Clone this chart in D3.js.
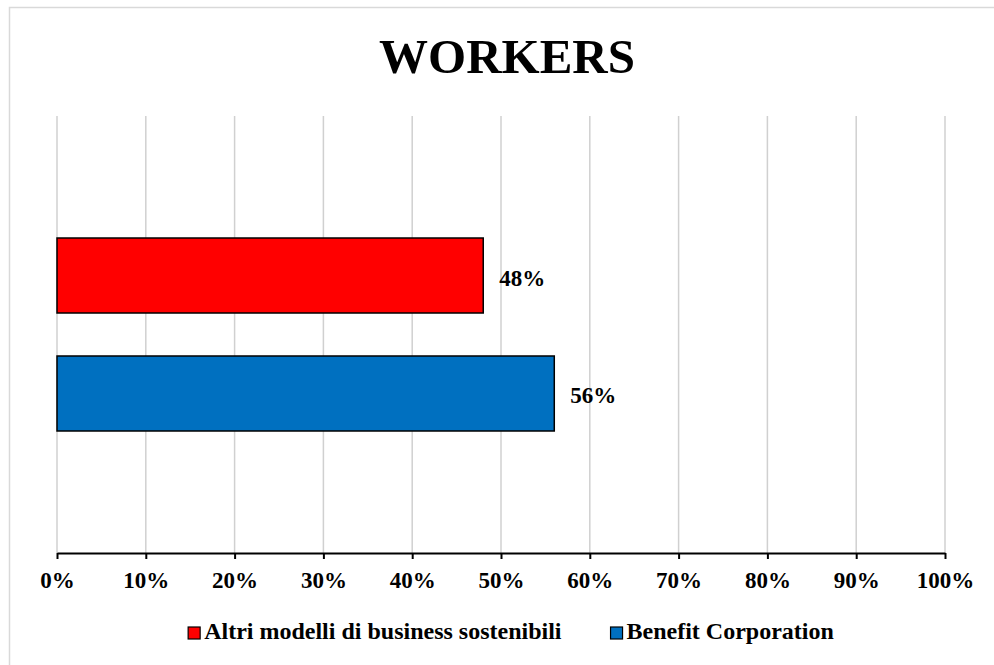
<!DOCTYPE html>
<html>

<head>
	<meta charset="utf-8">
	<script src="https://cdn.jsdelivr.net/npm/d3@7"></script>
	<style type="text/css">
		body {
			margin: 0;
			background: #fff;
		}

		text {
			font-family: 'Liberation Serif', 'Times New Roman', serif;
			font-weight: bold;
			fill: #000;
		}
	</style>
	<title>WORKERS</title>
</head>

<body>
	<script>
		// chart data
		var title = "WORKERS";
		var series_names = ["Altri modelli di business sostenibili", "Benefit Corporation"];
		var series_values = [0.48, 0.56];
		var series_colors = ["#ff0000", "#0070c0"];
		var tick_values = [0, 0.1, 0.2, 0.3, 0.4, 0.5, 0.6, 0.7, 0.8, 0.9, 1];

		var width = 994, height = 665;
		var margin = ({ top: 116, right: 49, bottom: 112, left: 57 });
		var format_percent = d3.format('.0%');

		var canvas = d3.select('body')
			.append('svg')
			.attr('width', width)
			.attr('height', height);

		// chart area border (runs off right / bottom)
		canvas.append('rect')
			.attr('x', 9.5).attr('y', 7.5)
			.attr('width', 1000).attr('height', 700)
			.attr('fill', 'none')
			.attr('stroke', '#d9d9d9')
			.attr('stroke-width', 1.5);

		// title
		canvas.append('text')
			.attr('x', 507)
			.attr('y', 73)
			.attr('text-anchor', 'middle')
			.style('font-size', '49px')
			.text(title);

		var x_scale = d3.scaleLinear()
			.domain([0, 1])
			.range([margin.left, width - margin.right]);

		var y_scale = d3.scaleBand()
			.domain(series_names)
			.range([margin.top, height - margin.bottom])
			.paddingInner(0.3644)
			.paddingOuter(1.034);

		// gridlines
		canvas.append('g')
			.selectAll('line')
			.data(tick_values)
			.enter()
			.append('line')
			.attr('x1', d => x_scale(d))
			.attr('x2', d => x_scale(d))
			.attr('y1', margin.top)
			.attr('y2', height - margin.bottom)
			.attr('stroke', '#d0d0d0')
			.attr('stroke-width', 1.5);

		// bars
		canvas.append('g')
			.selectAll('rect')
			.data(series_names)
			.enter()
			.append('rect')
			.attr('x', x_scale(0))
			.attr('y', d => y_scale(d))
			.attr('width', (d, i) => x_scale(series_values[i]) - x_scale(0))
			.attr('height', y_scale.bandwidth())
			.attr('fill', (d, i) => series_colors[i])
			.attr('stroke', '#000')
			.attr('stroke-width', 1.5);

		// value labels
		canvas.append('g')
			.selectAll('text')
			.data(series_names)
			.enter()
			.append('text')
			.attr('x', (d, i) => x_scale(series_values[i]) + 16)
			.attr('y', d => y_scale(d) + y_scale.bandwidth() / 2 + 10)
			.style('font-size', '23px')
			.text((d, i) => format_percent(series_values[i]));

		// x axis
		var x_axis = canvas.append('g')
			.attr('transform', `translate(0,${height - margin.bottom})`)
			.call(d3.axisBottom(x_scale)
				.tickValues(tick_values)
				.tickFormat(format_percent)
				.tickSizeInner(6)
				.tickSizeOuter(0)
				.tickPadding(12));
		x_axis.select('.domain').attr('stroke', '#000').attr('stroke-width', 2);
		x_axis.selectAll('.tick line').attr('stroke', '#000').attr('stroke-width', 2);
		x_axis.selectAll('.tick text')
			.attr('font-family', null)
			.style('font-size', '23px')
			.attr('dy', '0.72em');

		// legend
		var legend = canvas.append('g');
		var items = legend.selectAll('g')
			.data(series_names)
			.enter()
			.append('g');
		items.append('rect')
			.attr('width', 12).attr('height', 12)
			.attr('y', -12)
			.attr('fill', (d, i) => series_colors[i])
			.attr('stroke', '#000')
			.attr('stroke-width', 1.2);
		items.append('text')
			.attr('x', 16)
			.attr('y', 0)
			.style('font-size', '24px')
			.text(d => d);
		// lay out legend items centred under the plot
		var item_gap = 49, offsets = [], total = 0;
		items.each(function (d, i) {
			var w = 16 + d3.select(this).select('text').node().getComputedTextLength();
			offsets.push(total);
			total += w + (i < series_names.length - 1 ? item_gap : 0);
		});
		var start = 511 - total / 2;
		items.attr('transform', (d, i) => `translate(${start + offsets[i]},639)`);
	</script>
</body>

</html>
